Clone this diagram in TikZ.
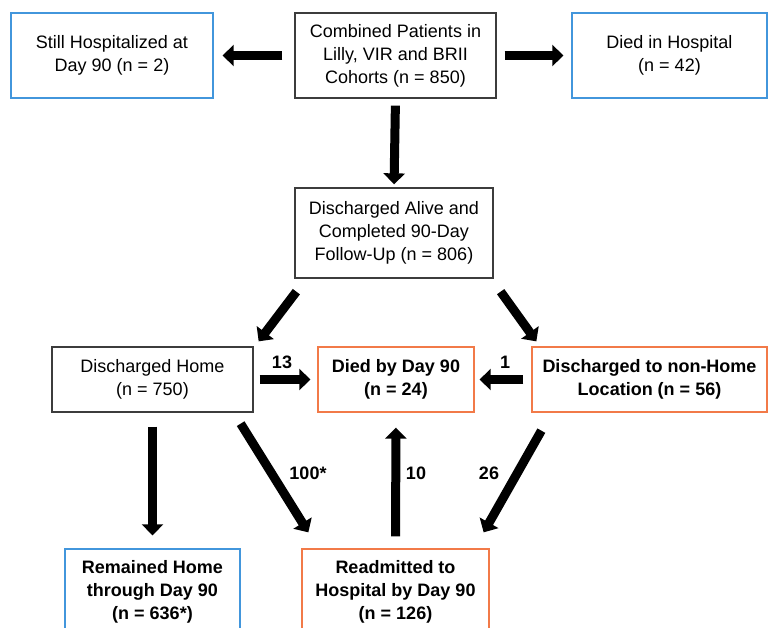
\documentclass[tikz,border=0pt]{standalone}
\usepackage{fontspec}
\setmainfont{Liberation Sans}
\usetikzlibrary{arrows.meta,calc}
\definecolor{boxblue}{RGB}{66,150,220}
\definecolor{boxorange}{RGB}{242,122,72}
\definecolor{boxgray}{RGB}{60,60,60}
\begin{document}
\begin{tikzpicture}[x=1pt, y=-1pt, font=\fontsize{18}{23}\selectfont, line join=miter,
	box/.style={draw=boxgray, line width=1.3pt, align=center, inner sep=0pt, minimum height=85pt},
	bluebox/.style={box, draw=boxblue},
	orangebox/.style={box, draw=boxorange, font=\fontsize{18}{23}\selectfont\bfseries},
	fat/.style={line width=9pt, -{Triangle[length=11pt,width=21pt]}},
	lbl/.style={font=\fontsize{18}{20}\selectfont\bfseries, inner sep=0pt}]
	\useasboundingbox (0,0) rectangle (768,627);
	\clip (0,0) rectangle (768,627);
	% boxes
	\node[bluebox, minimum width=202pt] (still) at (112,55.5) {Still Hospitalized at\\Day 90 (n = 2)};
	\node[box, minimum width=201pt] (comb) at (395.5,55.5) {Combined Patients in\\Lilly, VIR and BRII\\Cohorts (n = 850)};
	\node[bluebox, minimum width=195pt] (diedh) at (669.5,55.5) {Died in Hospital\\(n = 42)};
	\node[box, minimum width=198pt, minimum height=90pt] (alive) at (394,233) {Discharged Alive and\\Completed 90-Day\\Follow-Up (n = 806)};
	\node[box, minimum width=201pt, minimum height=65pt] (home) at (152.5,379.5) {Discharged Home\\(n = 750)};
	\node[orangebox, minimum width=156pt, minimum height=65pt] (diedd) at (396,379.5) {Died by Day 90\\(n = 24)};
	\node[orangebox, minimum width=235pt, minimum height=65pt] (nonhome) at (649.5,379.5) {Discharged to non-Home\\Location (n = 56)};
	\node[bluebox, font=\fontsize{18}{23}\selectfont\bfseries, minimum width=175pt] (remain) at (152.5,591.5) {Remained Home\\through Day 90\\(n = 636*)};
	\node[orangebox, minimum width=187pt] (readm) at (395.5,591.5) {Readmitted to\\Hospital by Day 90\\(n = 126)};
	% arrows
	\draw[fat, shorten <=12pt, shorten >=9pt] (comb.west) -- (still.east);
	\draw[fat, shorten <=8pt, shorten >=8pt] (comb.east) -- (diedh.west);
	\draw[fat, shorten <=7pt, shorten >=3pt] (comb.south) -- (alive.north);
	\draw[fat] ($(alive.south west)+(2,13)$) -- ($(home.north east)+(5,-5)$);
	\draw[fat] ($(alive.south east)+(7,13)$) -- ($(nonhome.north west)+(5,-5)$);
	\draw[fat, shorten <=6pt, shorten >=7pt] (home.east) -- (diedd.west);
	\draw[fat, shorten <=8pt, shorten >=5pt] (nonhome.west) -- (diedd.east);
	\draw[fat, shorten <=14pt, shorten >=13pt] (home.south) -- (remain.north);
	\draw[fat] ($(home.south east)+(-13,11)$) -- ($(readm.north west)+(7,-16)$);
	\draw[fat, shorten <=12pt, shorten >=15pt] (readm.north) -- (diedd.south);
	\draw[fat] ($(nonhome.south west)+(10,18)$) -- ($(readm.north east)+(-6,-16)$);
	% counts
	\node[lbl] (n13) at (282,362) {13};
	\node[lbl] (n1) at (505,362) {1};
	\node[lbl] (n100) at (308,473) {100*};
	\node[lbl] (n10) at (416,473) {10};
	\node[lbl] (n26) at (489,473) {26};
\end{tikzpicture}
\end{document}
